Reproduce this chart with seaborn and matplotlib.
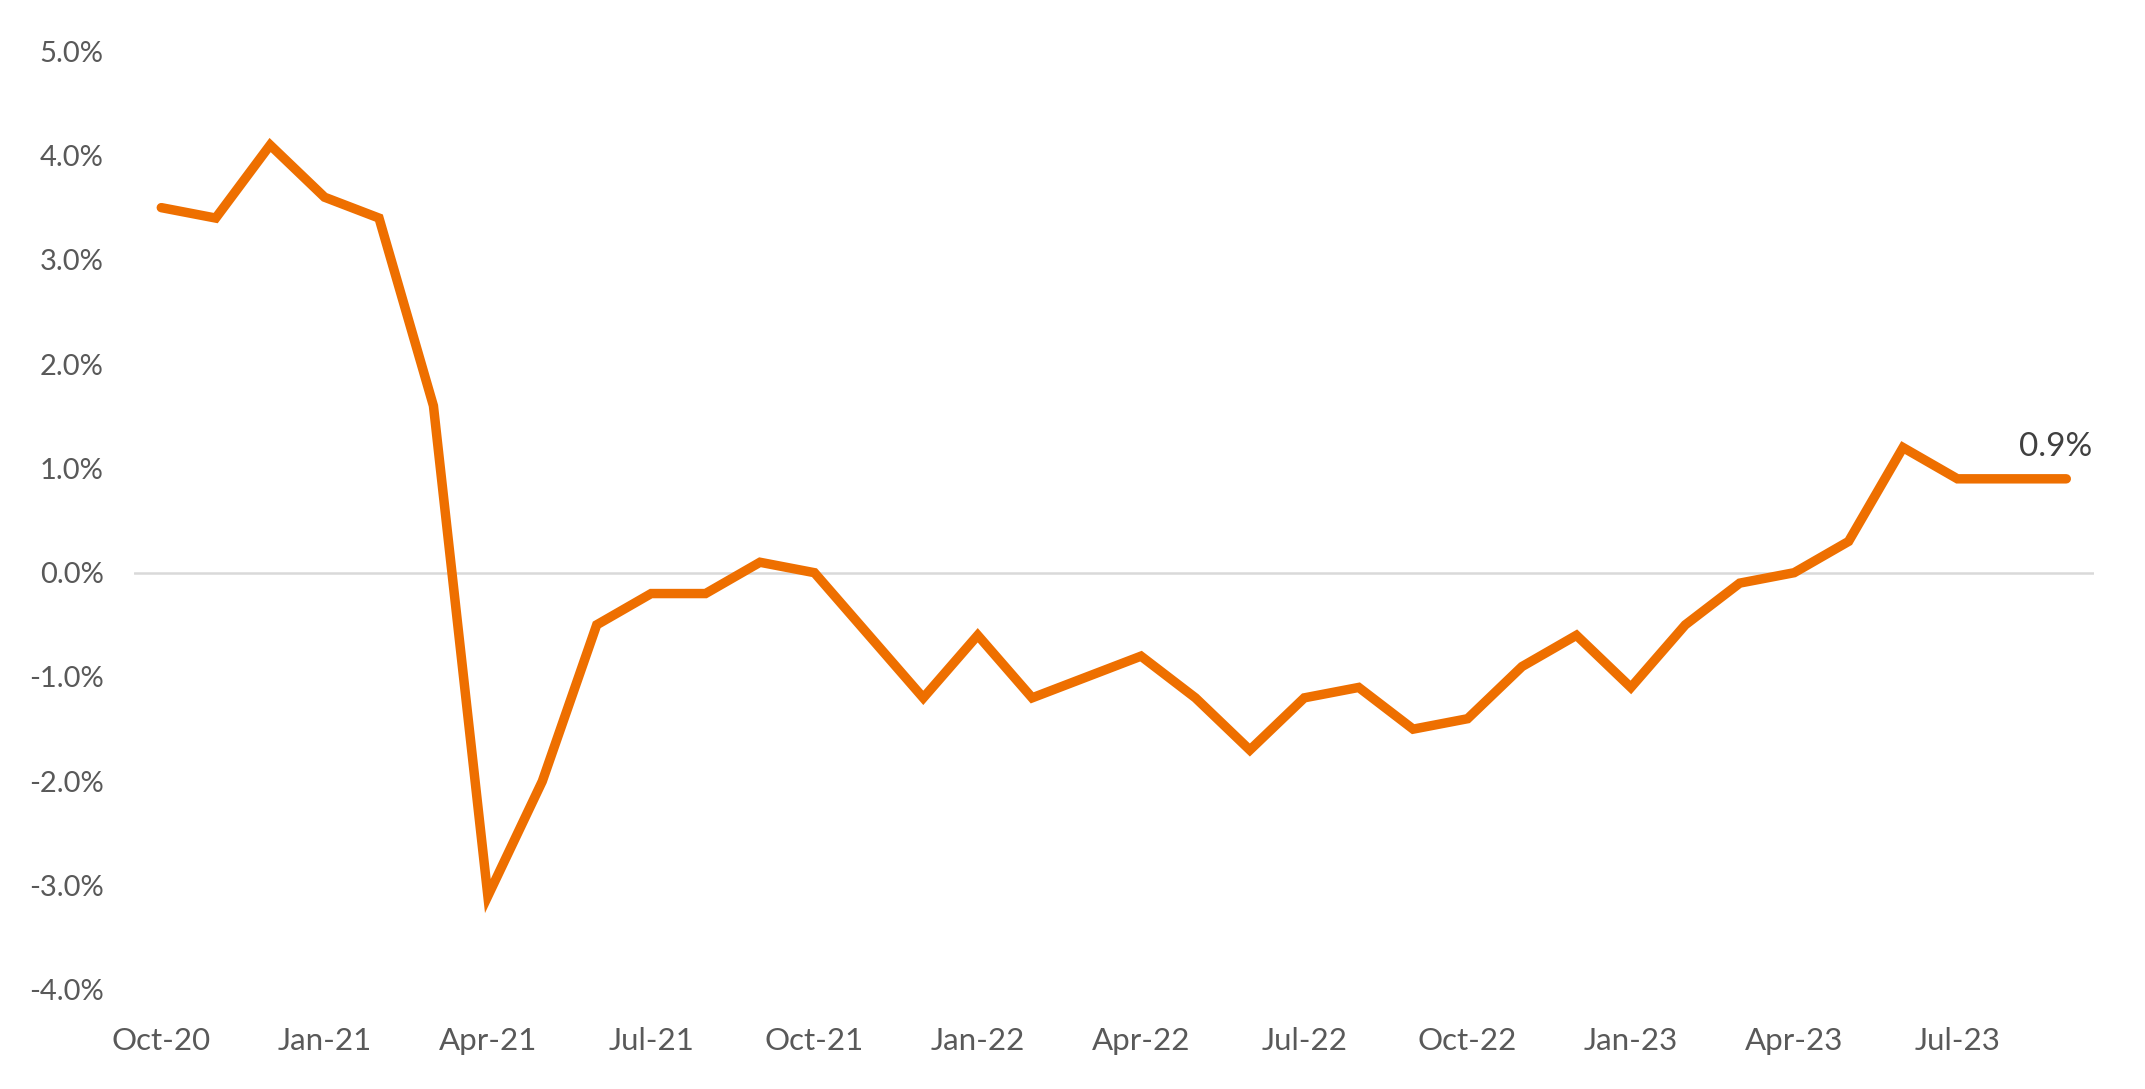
import matplotlib
matplotlib.use("Agg")
import matplotlib.pyplot as plt
import seaborn as sns
import pandas as pd

months = ["Oct-20", "Nov-20", "Dec-20", "Jan-21", "Feb-21", "Mar-21", "Apr-21", "May-21",
          "Jun-21", "Jul-21", "Aug-21", "Sep-21", "Oct-21", "Nov-21", "Dec-21", "Jan-22",
          "Feb-22", "Mar-22", "Apr-22", "May-22", "Jun-22", "Jul-22", "Aug-22", "Sep-22",
          "Oct-22", "Nov-22", "Dec-22", "Jan-23", "Feb-23", "Mar-23", "Apr-23", "May-23",
          "Jun-23", "Jul-23", "Aug-23", "Sep-23"]
values = [3.5, 3.4, 4.1, 3.6, 3.4, 1.6, -3.1, -2.0,
          -0.5, -0.2, -0.2, 0.1, 0.0, -0.6, -1.2, -0.6,
          -1.2, -1.0, -0.8, -1.2, -1.7, -1.2, -1.1, -1.5,
          -1.4, -0.9, -0.6, -1.1, -0.5, -0.1, 0.0, 0.3,
          1.2, 0.9, 0.9, 0.9]
yticks = [5, 4, 3, 2, 1, 0, -1, -2, -3, -4]
end_label = "0.9%"

sns.set_theme(style="white")
plt.rcParams['font.family'] = ['Lato', 'DejaVu Sans']

df = pd.DataFrame({"idx": range(len(months)), "month": months, "value": values})

fig = plt.figure(figsize=(21.45, 10.89), dpi=100)
ax = fig.add_axes([0.0625, 0.091, 0.9135, 0.862])

ax.axhline(0, color="#D9D9D9", lw=1.8, zorder=1)
sns.lineplot(data=df, x="idx", y="value", ax=ax, color="#EE6F00", lw=6.8,
             solid_capstyle="round", solid_joinstyle="miter", zorder=3)

ax.set_xlim(-0.5, len(months) - 0.5)
ax.set_ylim(-4, 5)
ax.set_yticks(yticks)
ax.set_yticklabels([f"{t:.1f}%" for t in yticks])
xt = list(range(0, len(months), 3))
ax.set_xticks(xt)
ax.set_xticklabels([months[i] for i in xt])
ax.tick_params(axis="y", length=0, pad=22, labelsize=21, labelcolor="#595959")
ax.tick_params(axis="x", length=0, pad=27, labelsize=22.5, labelcolor="#595959")
ax.set_xlabel("")
ax.set_ylabel("")
for s in ax.spines.values():
    s.set_visible(False)
ax.grid(False)

ax.annotate(end_label, xy=(len(months) - 1, values[-1]), xytext=(19, 12),
            textcoords="offset points", ha="right", va="bottom",
            fontsize=24, color="#404040")

fig.savefig("out.png", dpi=100)
